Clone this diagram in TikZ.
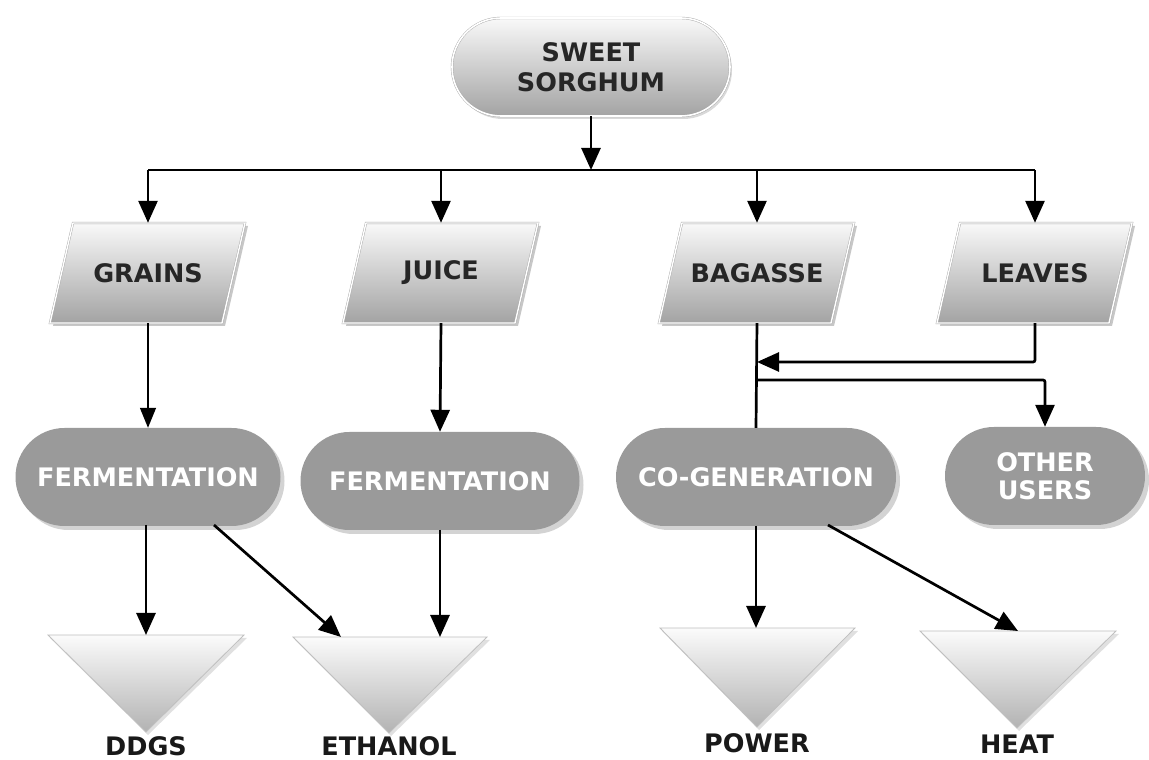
\documentclass[tikz,border=0pt]{standalone}
\usepackage{fontspec}
\setmainfont{DejaVu Sans}
\usetikzlibrary{shapes.geometric,shadows,arrows.meta}
\definecolor{procgray}{HTML}{9A9A9A}
\tikzset{
  every node/.style={font=\bfseries\fontsize{25.5}{30}\selectfont, align=center},
  conn/.style={line width=2.7pt, -{Triangle[length=22pt,width=19pt]}},
  thinconn/.style={line width=1.4pt, -{Triangle[length=20pt,width=16pt]}},
  plainline/.style={line width=2.7pt},
  startbox/.style={rectangle, rounded corners=49pt, minimum width=278pt, minimum height=98pt,
    top color=gray!5, bottom color=gray!72, draw=gray!70, double=white, double distance=1.6pt,
    drop shadow={shadow xshift=2pt, shadow yshift=-3pt, opacity=0.3}, text=black!85},
  datatext/.style={rectangle, minimum width=172pt, minimum height=100pt, inner sep=0pt, text=black!85},
  datashape/.style={top color=gray!5, bottom color=gray!72, draw=gray!70, double=white, double distance=1.4pt},
  datashadow/.style={fill=black, opacity=0.22},
  procbox/.style={rectangle, rounded corners=49pt, minimum height=98pt, fill=procgray,
    text=white, drop shadow={shadow xshift=4pt, shadow yshift=-4pt, opacity=0.35}},
  tri/.style={top color=gray!3, bottom color=gray!60, draw=gray!50, line width=0.8pt},
  trishadow/.style={fill=black, opacity=0.12},
  outlabel/.style={text=black!90, inner sep=1pt},
}
\newcommand{\mydatabox}[4]{%
  \fill[datashadow] (#2-72,#3+47) -- (#2+100,#3+47) -- (#2+77,#3-53) -- (#2-95,#3-53) -- cycle;
  \shade[datashape] (#2-75,#3+50) -- (#2+97,#3+50) -- (#2+74,#3-50) -- (#2-98,#3-50) -- cycle;
  \node[datatext] (#1) at (#2,#3) {#4};}
\begin{document}
\begin{tikzpicture}[x=1pt,y=1pt]
\useasboundingbox (0,0) rectangle (1149,760);

% top node
\node[startbox] (ss) at (591,693) {SWEET\\SORGHUM};

% data nodes
\mydatabox{grains}{148}{487}{GRAINS}
\mydatabox{juice}{441}{487}{JUICE}
\mydatabox{bagasse}{757}{487}{BAGASSE}
\mydatabox{leaves}{1035}{487}{LEAVES}

% process nodes
\node[procbox, minimum width=265pt] (ferm1) at (148,283) {FERMENTATION};
\node[procbox, minimum width=279pt] (ferm2) at (440,279) {FERMENTATION};
\node[procbox, minimum width=280pt] (cogen) at (756,283) {CO-GENERATION};
\node[procbox, minimum width=200pt] (other) at (1045,284) {OTHER\\[-2pt]USERS};

% output triangles
\fill[trishadow] (50,122) -- (247,122) -- (148,25) -- cycle;
\shade[tri] (48,125) -- (244,125) -- (146,28) -- cycle;
\fill[trishadow] (295,120) -- (490,120) -- (391,24) -- cycle;
\shade[tri] (293,123) -- (487,123) -- (389,27) -- cycle;
\fill[trishadow] (662,129) -- (858,129) -- (759,30) -- cycle;
\shade[tri] (660,132) -- (855,132) -- (757,33) -- cycle;
\fill[trishadow] (922,126) -- (1119,126) -- (1019,29) -- cycle;
\shade[tri] (920,129) -- (1116,129) -- (1017,32) -- cycle;
\coordinate (ddgsin) at (146,125);
\coordinate (ethin1) at (341,123);
\coordinate (ethin2) at (440,123);
\coordinate (powin) at (756,132);
\coordinate (heatin) at (1018,129);

\node[outlabel] (ddgs) at (146,14) {DDGS};
\node[outlabel] (ethanol) at (389,14) {ETHANOL};
\node[outlabel] (power) at (757,17) {POWER};
\node[outlabel] (heat) at (1017,16) {HEAT};

% branching
\coordinate (bj) at (591,590);
\coordinate (b1) at (148,590);
\coordinate (b4) at (1035,590);
\draw[conn] (ss.south) -- (bj);
\draw[plainline] (b1) -- (b4);
\draw[conn] (b1) -- (grains.north);
\draw[conn] (441,590) -- (juice.north);
\draw[conn] (757,590) -- (bagasse.north);
\draw[conn] (b4) -- (leaves.north);

% lower connectors
\draw[thinconn] (grains.south) -- (ferm1.north);
\draw[conn] (juice.south) -- (ferm2.north);
\draw[plainline] (bagasse.south) -- (cogen.north);
\coordinate (lj) at (757,398);
\coordinate (oj) at (757,380);
\draw[conn, rounded corners=2pt] (leaves.south) |- (lj);
\draw[conn, rounded corners=2pt] (oj) -| (other.north);

\draw[conn] (146,235) -- (ddgsin);
\draw[conn] (214,235) -- (ethin1);
\draw[conn] (440,230) -- (ethin2);
\draw[conn] (756,234) -- (powin);
\draw[conn] (828,235) -- (heatin);
\end{tikzpicture}
\end{document}
